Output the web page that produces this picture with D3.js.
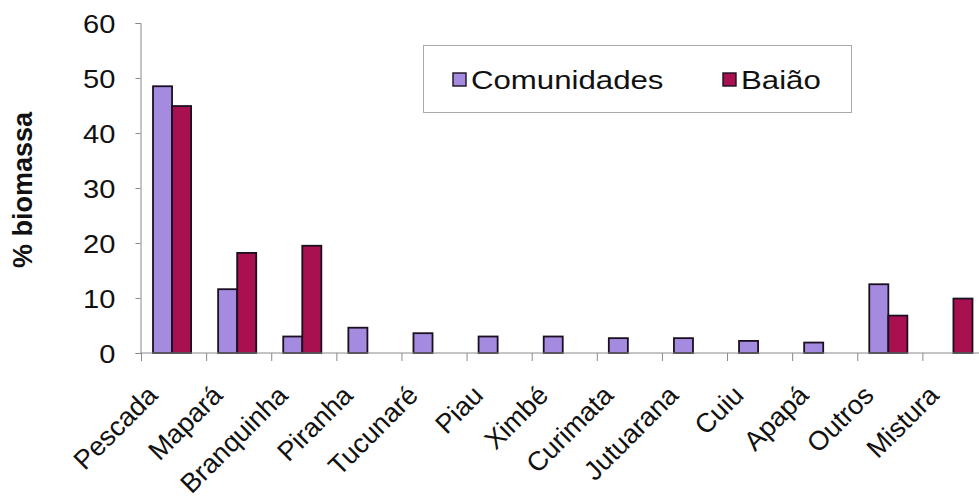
<!DOCTYPE html>
<html>
<head>
<meta charset="utf-8">
<script src="https://cdn.jsdelivr.net/npm/d3@7"></script>
<style>
  html, body { margin: 0; padding: 0; background: #fff; }
  svg { display: block; font-family: "Liberation Sans", Arial, sans-serif; }
</style>
</head>
<body>
<svg id="chart" width="979" height="497"></svg>
<script>
// Fish catch composition: share of biomass per species group
const categories = ["Pescada", "Mapará", "Branquinha", "Piranha", "Tucunaré", "Piau",
  "Ximbé", "Curimata", "Jutuarana", "Cuiu", "Apapá", "Outros", "Mistura"];
const seriesNames = ["Comunidades", "Baião"];
const comunidades = [48.5, 11.6, 3.0, 4.6, 3.6, 3.0, 3.0, 2.7, 2.7, 2.2, 1.9, 12.5, null];
const baiao = [44.9, 18.2, 19.5, null, null, null, null, null, null, null, null, 6.8, 9.9];
const yTicks = [0, 10, 20, 30, 40, 50, 60];

const colors = { "Comunidades": "#a48be0", "Baião": "#a8104f" };
const stretch = 1.12; // horizontal stretch of the tick numbers

const svg = d3.select("#chart");
const plot = { left: 140.5, top: 23, right: 988, bottom: 353 };

const x = d3.scaleBand().domain(categories).range([141.5, 988]).paddingInner(0).paddingOuter(0);
const bw = x.bandwidth();
const groupFrac = 0.585;
const x1 = d3.scaleBand().domain(seriesNames)
  .range([bw * (1 - groupFrac) / 2 - 2, bw * (1 + groupFrac) / 2 - 2]);
const y = d3.scaleLinear().domain([0, 60]).range([plot.bottom, plot.top]);

const rows = categories.map((c, i) => ({ cat: c, values: { "Comunidades": comunidades[i], "Baião": baiao[i] } }));

// bars
const groups = svg.append("g").selectAll("g").data(rows).join("g")
  .attr("transform", d => `translate(${x(d.cat)},0)`);
groups.selectAll("rect")
  .data(d => seriesNames.filter(s => d.values[s] != null).map(s => ({ s, v: d.values[s] })))
  .join("rect")
  .attr("x", d => x1(d.s))
  .attr("width", x1.bandwidth())
  .attr("y", d => y(d.v))
  .attr("height", d => y(0) - y(d.v))
  .attr("fill", d => colors[d.s])
  .attr("stroke", "#1a1020")
  .attr("stroke-width", 1.8);

// y axis
const yAxis = svg.append("g").attr("transform", `translate(${plot.left},0)`)
  .call(d3.axisLeft(y).tickValues(yTicks).tickSize(5).tickPadding(0).tickFormat(d3.format("d")));
yAxis.select(".domain").attr("stroke", "#8a8a8a").attr("stroke-width", 1);
yAxis.selectAll(".tick line").attr("stroke", "#8a8a8a");
yAxis.selectAll(".tick text").remove();
yAxis.selectAll(".tick").append("text")
  .attr("transform", `translate(-25,0) scale(${stretch},1)`)
  .attr("text-anchor", "end")
  .attr("dy", "0.36em")
  .attr("fill", "#111")
  .style("font-size", "26px")
  .text(d => d);

// x axis
const xAxis = svg.append("g").attr("transform", `translate(0,${plot.bottom})`);
xAxis.append("line").attr("x1", plot.left).attr("x2", 979).attr("y1", 0).attr("y2", 0)
  .attr("stroke", "#8a8a8a");
xAxis.selectAll(".xtick").data(categories).join("line")
  .attr("x1", d => x(d)).attr("x2", d => x(d)).attr("y1", 0).attr("y2", 8)
  .attr("stroke", "#8a8a8a");
xAxis.selectAll(".xlabel").data(categories).join("text")
  .attr("transform", d => `translate(${x(d) + bw / 2 - 15},44) rotate(-45)`)
  .attr("text-anchor", "end")
  .attr("fill", "#111")
  .style("font-size", "27px")
  .text(d => d);

// y title
svg.append("text")
  .attr("transform", "translate(32,190) rotate(-90)")
  .attr("text-anchor", "middle")
  .attr("fill", "#111")
  .style("font-size", "27px")
  .style("font-weight", "bold")
  .text("% biomassa");

// legend
const legend = svg.append("g");
legend.append("rect").attr("x", 423.5).attr("y", 45.5).attr("width", 428).attr("height", 67)
  .attr("fill", "#fff").attr("stroke", "#aaa").attr("stroke-width", 1);
const legendItems = [{ s: "Comunidades", x: 453 }, { s: "Baião", x: 723 }];
legendItems.forEach(it => {
  legend.append("rect").attr("x", it.x).attr("y", 73).attr("width", 13).attr("height", 13)
    .attr("fill", colors[it.s]).attr("stroke", "#1a1020").attr("stroke-width", 1.4);
  legend.append("text")
    .attr("transform", `translate(${it.x + 18},89) scale(1.2,1)`)
    .attr("fill", "#111")
    .style("font-size", "26px")
    .text(it.s);
});
</script>
</body>
</html>
